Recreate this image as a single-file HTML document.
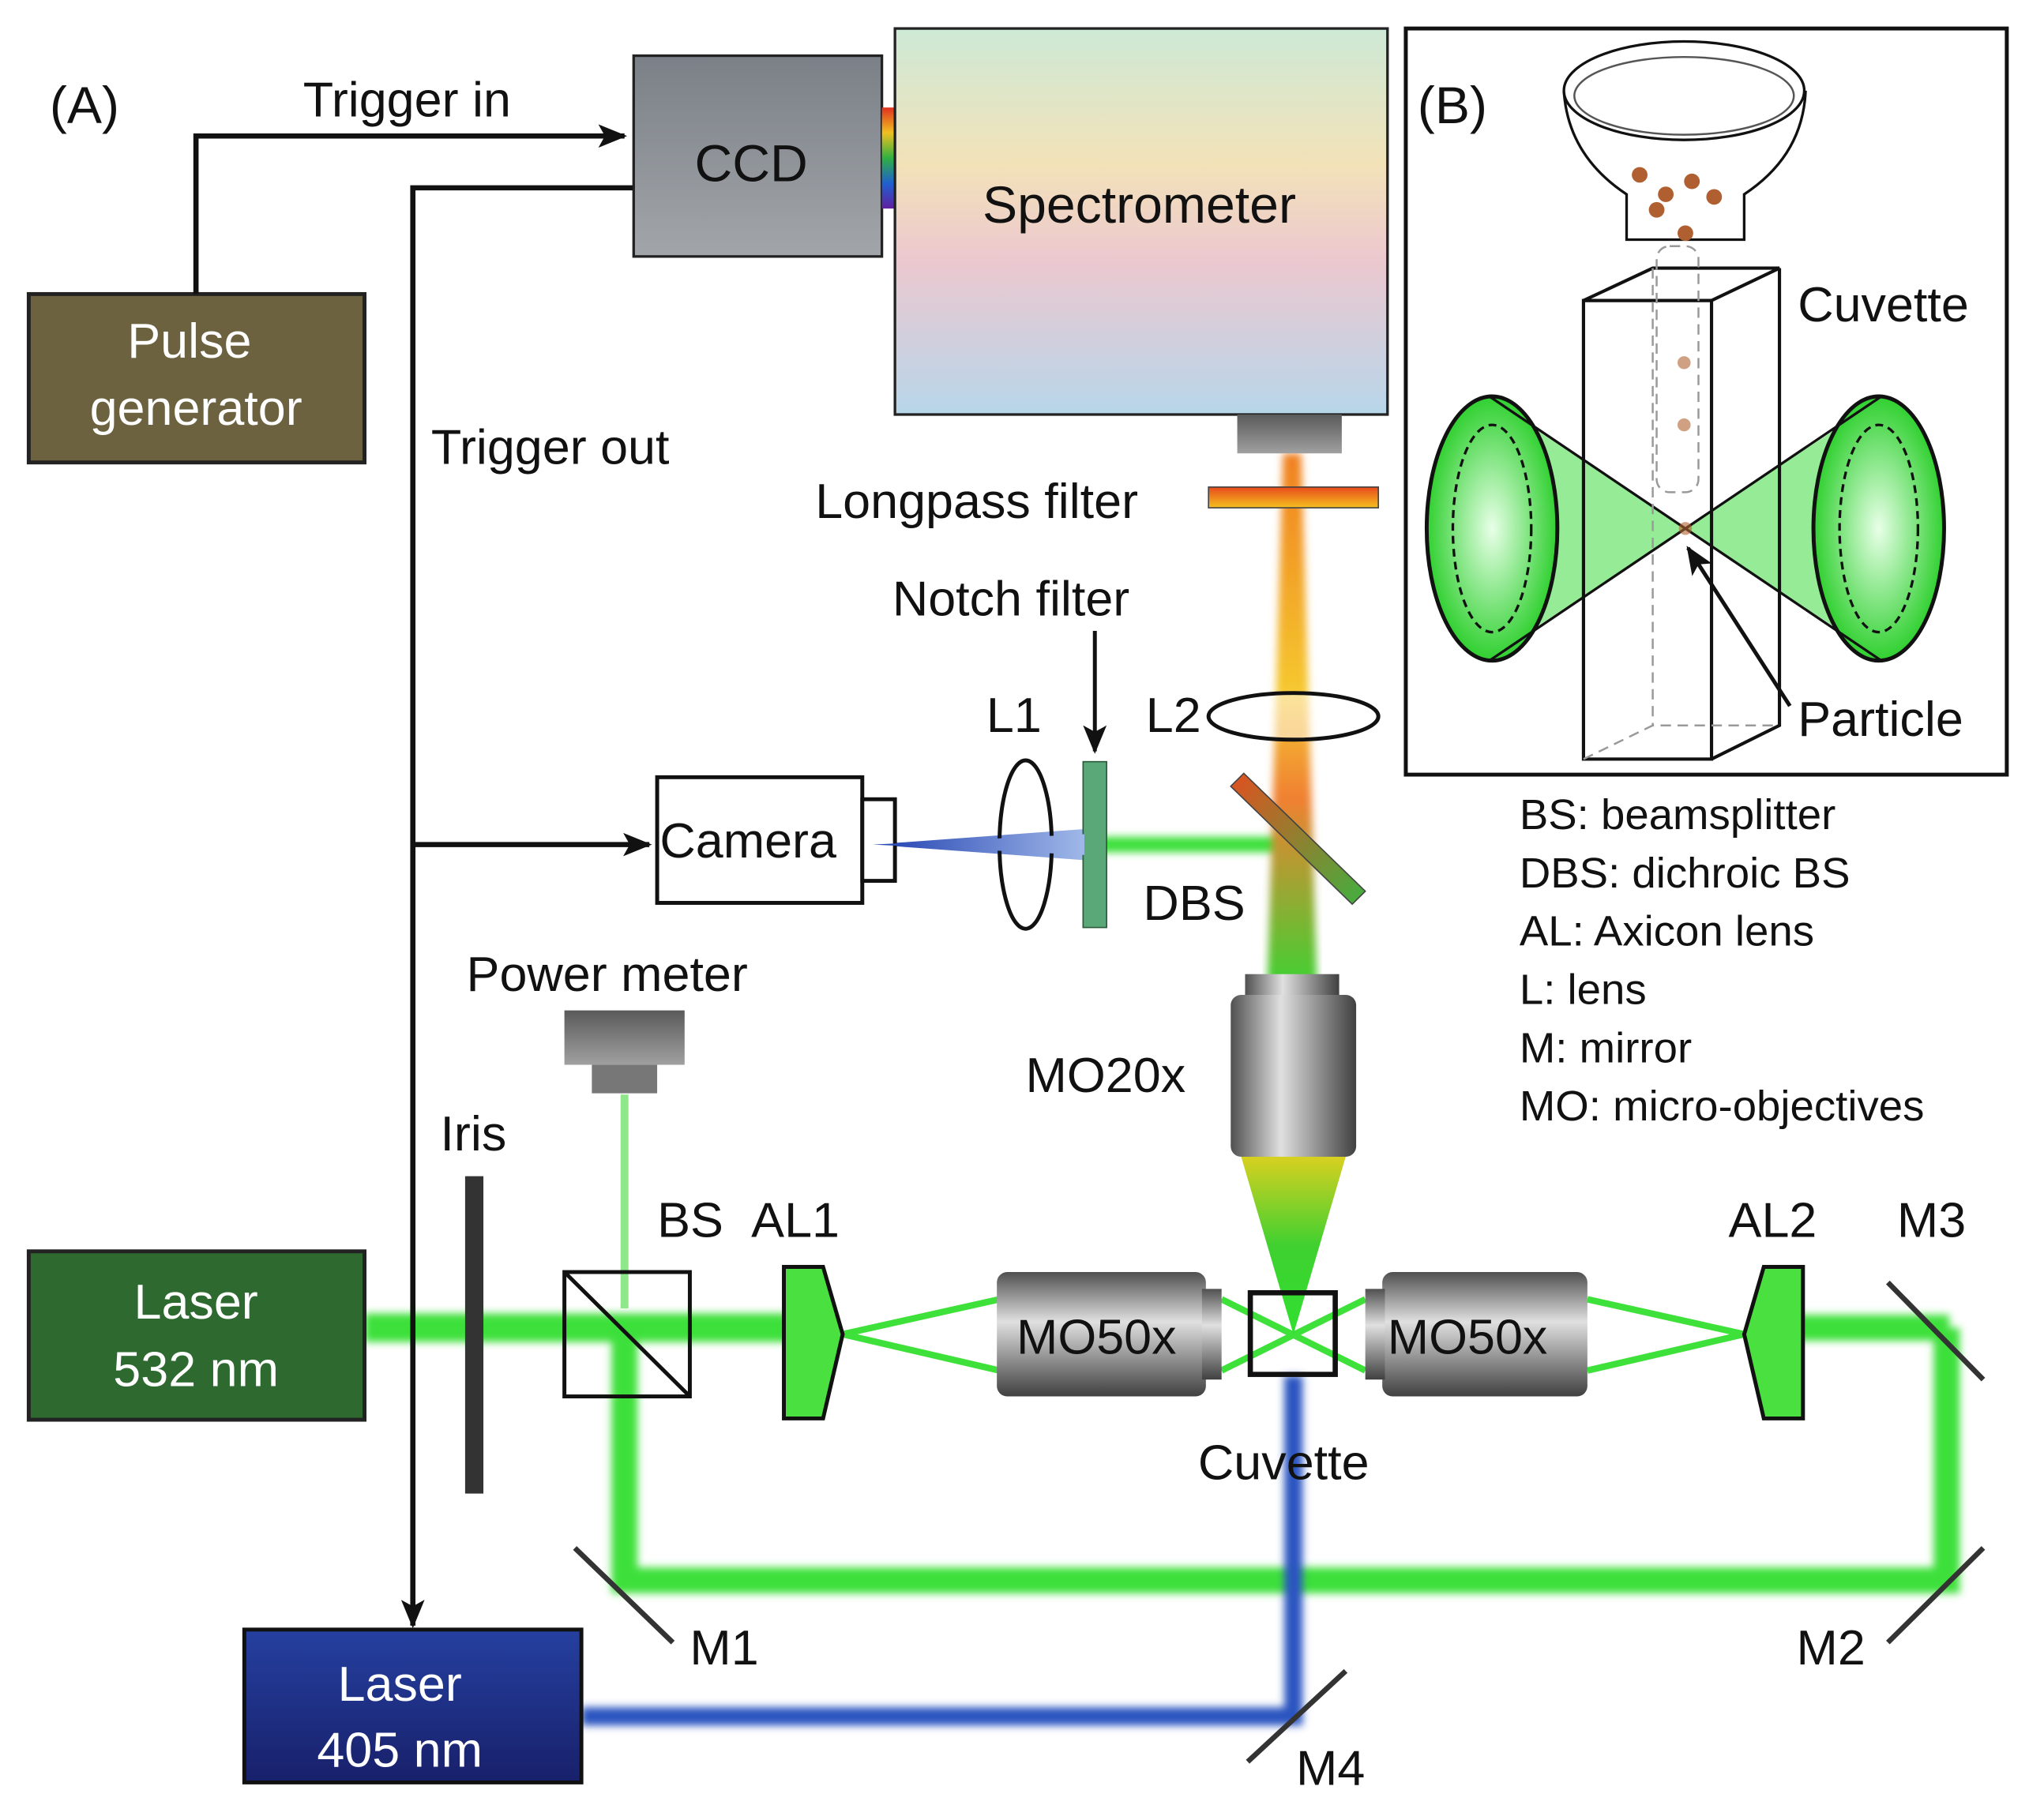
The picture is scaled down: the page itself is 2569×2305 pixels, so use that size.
<!DOCTYPE html>
<html><head><meta charset="utf-8"><style>
html,body{margin:0;padding:0;background:#fff;}
svg{display:block;}
text{font-family:"Liberation Sans",sans-serif;fill:#111;}
</style></head><body>
<svg width="2569" height="2305" viewBox="0 0 1553 1405" preserveAspectRatio="none" xmlns="http://www.w3.org/2000/svg">
<defs>
<linearGradient id="spec" x1="0" y1="0" x2="0" y2="1">
<stop offset="0" stop-color="#cde9d6"/><stop offset="0.35" stop-color="#f2e2b8"/><stop offset="0.6" stop-color="#ecc8cf"/><stop offset="1" stop-color="#b7d6ea"/></linearGradient>
<linearGradient id="ccd" x1="0" y1="0" x2="0" y2="1"><stop offset="0" stop-color="#7b8087"/><stop offset="1" stop-color="#a2a6aa"/></linearGradient>
<linearGradient id="rb" x1="0" y1="0" x2="0" y2="1"><stop offset="0" stop-color="#e03020"/><stop offset="0.25" stop-color="#f0c020"/><stop offset="0.5" stop-color="#30b040"/><stop offset="0.75" stop-color="#2060d0"/><stop offset="1" stop-color="#6020a0"/></linearGradient>
<linearGradient id="lp" x1="0" y1="0" x2="0" y2="1"><stop offset="0" stop-color="#e84a1a"/><stop offset="1" stop-color="#f5c020"/></linearGradient>
<linearGradient id="beam" x1="0" y1="0" x2="0" y2="1"><stop offset="0" stop-color="#f08020"/><stop offset="0.45" stop-color="#f5c830"/><stop offset="0.65" stop-color="#f08030"/><stop offset="1" stop-color="#40d030"/></linearGradient>
<linearGradient id="obj" x1="0" y1="0" x2="1" y2="0"><stop offset="0" stop-color="#505050"/><stop offset="0.4" stop-color="#e0e0e0"/><stop offset="1" stop-color="#404040"/></linearGradient>
<linearGradient id="objh" x1="0" y1="0" x2="0" y2="1"><stop offset="0" stop-color="#505050"/><stop offset="0.4" stop-color="#e0e0e0"/><stop offset="1" stop-color="#404040"/></linearGradient>
<linearGradient id="cone" x1="0" y1="0" x2="0" y2="1"><stop offset="0" stop-color="#d8d020"/><stop offset="0.5" stop-color="#40d030"/><stop offset="1" stop-color="#30e030"/></linearGradient>
<linearGradient id="bcone" x1="0" y1="0" x2="1" y2="0"><stop offset="0" stop-color="#2040b0"/><stop offset="1" stop-color="#a0b8e8"/></linearGradient>
<linearGradient id="l405" x1="0" y1="0" x2="0" y2="1"><stop offset="0" stop-color="#2540a0"/><stop offset="1" stop-color="#18206a"/></linearGradient>
<linearGradient id="dbs" x1="0" y1="0" x2="1" y2="1"><stop offset="0" stop-color="#e05020"/><stop offset="1" stop-color="#40b040"/></linearGradient>
<linearGradient id="pm" x1="0" y1="0" x2="0" y2="1"><stop offset="0" stop-color="#5a5a5a"/><stop offset="1" stop-color="#a0a0a0"/></linearGradient>
<filter id="blur"><feGaussianBlur stdDeviation="3"/></filter>
<radialGradient id="gc" cx="0.5" cy="0.5" r="0.5"><stop offset="0" stop-color="#e8ffe8"/><stop offset="1" stop-color="#30d030"/></radialGradient>
<marker id="ar" markerWidth="10" markerHeight="10" refX="9" refY="5" orient="auto" markerUnits="userSpaceOnUse"><path d="M0,0 L10,5 L0,10 Z" fill="#111"/></marker>
<marker id="arb" markerWidth="22" markerHeight="18" refX="20" refY="9" orient="auto" markerUnits="userSpaceOnUse"><path d="M0,0 L22,9 L0,18 L5,9 Z" fill="#111"/></marker>
</defs>

<!-- green beams -->
<g filter="url(#blur)" stroke="#3ee03a" fill="none">
<line x1="279" y1="1025" x2="605" y2="1025" stroke-width="22"/>
<line x1="1375" y1="1025" x2="1492" y2="1025" stroke-width="20"/>
<polyline points="1490,1025 1490,1220 478,1220 478,1030" stroke-width="20"/>
<line x1="830" y1="652" x2="990" y2="652" stroke-width="12"/>
</g>
<line x1="478" y1="845" x2="478" y2="1010" stroke="#8ee88a" stroke-width="6"/>
<!-- blue beam -->
<polyline points="445,1325 990,1325 990,1062" fill="none" stroke="#2a55c0" stroke-width="14" filter="url(#blur)"/>
<!-- axicon beams -->
<g stroke="#3ee03a" stroke-width="5" fill="none">
<path d="M645,1030 L765,1003 M645,1030 L765,1058 M935,1003 L1045,1058 M935,1058 L1045,1003 M1335,1030 L1215,1003 M1335,1030 L1215,1058"/>
</g>
<!-- vertical beam -->
<polygon points="982,350 996,350 1008,760 970,760" fill="url(#beam)" filter="url(#blur)"/>
<polygon points="950,893 1030,893 990,1030" fill="url(#cone)"/>
<polygon points="668,652 830,640 830,664" fill="url(#bcone)"/>

<!-- Pulse generator -->
<rect x="22" y="227" width="257" height="130" fill="#6c6240" stroke="#222" stroke-width="3"/>
<text x="145" y="276" font-size="38" text-anchor="middle" style="fill:#fff">Pulse</text>
<text x="150" y="328" font-size="38" text-anchor="middle" style="fill:#fff">generator</text>
<text x="38" y="95" font-size="40">(A)</text>
<polyline points="150,227 150,105 478,105" fill="none" stroke="#111" stroke-width="4" marker-end="url(#arb)"/>
<text x="232" y="90" font-size="38">Trigger in</text>
<polyline points="485,145 316,145 316,1255" fill="none" stroke="#111" stroke-width="4" marker-end="url(#arb)"/>
<line x1="316" y1="652" x2="497" y2="652" stroke="#111" stroke-width="4" marker-end="url(#arb)"/>
<text x="330" y="358" font-size="38">Trigger out</text>

<!-- CCD / spectrometer -->
<rect x="485" y="43" width="190" height="155" fill="url(#ccd)" stroke="#222" stroke-width="2"/>
<text x="575" y="140" font-size="40" text-anchor="middle">CCD</text>
<rect x="675" y="83" width="10" height="78" fill="url(#rb)"/>
<rect x="685" y="22" width="377" height="298" fill="url(#spec)" stroke="#222" stroke-width="2"/>
<text x="872" y="172" font-size="40" text-anchor="middle">Spectrometer</text>
<rect x="947" y="320" width="80" height="30" fill="url(#pm)"/>
<rect x="925" y="376" width="130" height="16" fill="url(#lp)" stroke="#444" stroke-width="1"/>
<text x="624" y="400" font-size="38">Longpass filter</text>
<text x="683" y="475" font-size="38">Notch filter</text>
<line x1="838" y1="487" x2="838" y2="580" stroke="#111" stroke-width="3" marker-end="url(#arb)"/>
<ellipse cx="990" cy="553" rx="65" ry="18" fill="rgba(255,255,255,0.5)" stroke="#111" stroke-width="3"/>
<text x="877" y="565" font-size="38">L2</text>
<text x="755" y="565" font-size="38">L1</text>
<rect x="829" y="588" width="18" height="128" fill="#5aa878" stroke="#2a5a3a" stroke-width="1"/>
<ellipse cx="785" cy="652" rx="20" ry="65" fill="none" stroke="#111" stroke-width="3"/>
<polygon points="952,597 1045,688 1035,698 942,607" fill="url(#dbs)" stroke="#444" stroke-width="1"/>
<text x="875" y="710" font-size="38">DBS</text>
<rect x="503" y="600" width="157" height="97" fill="#fff" stroke="#111" stroke-width="3"/>
<rect x="660" y="617" width="25" height="63" fill="#fff" stroke="#111" stroke-width="3"/>
<text x="505" y="662" font-size="38">Camera</text>
<polygon points="668,652 830,644 830,660" fill="url(#bcone)"/>

<!-- MO20x -->
<rect x="953" y="752" width="72" height="20" fill="url(#obj)"/>
<rect x="942" y="768" width="96" height="125" rx="8" fill="url(#obj)"/>
<text x="785" y="843" font-size="38">MO20x</text>

<!-- Power meter, Iris -->
<text x="357" y="765" font-size="38">Power meter</text>
<rect x="432" y="780" width="92" height="42" fill="url(#pm)"/>
<rect x="453" y="822" width="50" height="22" fill="#777"/>
<text x="337" y="888" font-size="38">Iris</text>
<rect x="356" y="908" width="14" height="245" fill="#333"/>

<!-- Laser 532 -->
<rect x="22" y="966" width="257" height="130" fill="#2e6a30" stroke="#222" stroke-width="3"/>
<text x="150" y="1018" font-size="38" text-anchor="middle" style="fill:#fff">Laser</text>
<text x="150" y="1070" font-size="38" text-anchor="middle" style="fill:#fff">532 nm</text>

<!-- BS -->
<rect x="432" y="982" width="96" height="96" fill="none" stroke="#111" stroke-width="3"/>
<line x1="432" y1="982" x2="528" y2="1078" stroke="#111" stroke-width="3"/>
<text x="503" y="955" font-size="38">BS</text>
<text x="575" y="955" font-size="38">AL1</text>
<polygon points="600,978 630,978 645,1030 630,1095 600,1095" fill="#4ae040" stroke="#111" stroke-width="3"/>
<polygon points="1380,978 1350,978 1335,1030 1350,1095 1380,1095" fill="#4ae040" stroke="#111" stroke-width="3"/>
<text x="1323" y="955" font-size="38">AL2</text>
<text x="1452" y="955" font-size="38">M3</text>

<!-- MO50x -->
<rect x="763" y="982" width="160" height="96" rx="8" fill="url(#objh)"/>
<rect x="920" y="995" width="15" height="70" fill="url(#objh)"/>
<text x="778" y="1045" font-size="38">MO50x</text>
<rect x="1058" y="982" width="157" height="96" rx="8" fill="url(#objh)"/>
<rect x="1045" y="995" width="15" height="70" fill="url(#objh)"/>
<text x="1062" y="1045" font-size="38">MO50x</text>
<rect x="957" y="998" width="65" height="63" fill="none" stroke="#111" stroke-width="4"/>
<text x="917" y="1142" font-size="38">Cuvette</text>

<!-- mirrors -->
<g stroke="#333" stroke-width="4">
<line x1="1445" y1="990" x2="1518" y2="1065"/>
<line x1="1445" y1="1268" x2="1518" y2="1195"/>
<line x1="440" y1="1195" x2="515" y2="1268"/>
<line x1="955" y1="1360" x2="1030" y2="1290"/>
</g>
<text x="528" y="1285" font-size="38">M1</text>
<text x="1375" y="1285" font-size="38">M2</text>
<text x="992" y="1378" font-size="38">M4</text>

<!-- Laser 405 -->
<rect x="187" y="1258" width="258" height="118" fill="url(#l405)" stroke="#111" stroke-width="3"/>
<text x="306" y="1313" font-size="38" text-anchor="middle" style="fill:#fff">Laser</text>
<text x="306" y="1364" font-size="38" text-anchor="middle" style="fill:#fff">405 nm</text>

<!-- legend -->
<g font-size="33">
<text x="1163" y="640">BS: beamsplitter</text>
<text x="1163" y="685">DBS: dichroic BS</text>
<text x="1163" y="730">AL: Axicon lens</text>
<text x="1163" y="775">L: lens</text>
<text x="1163" y="820">M: mirror</text>
<text x="1163" y="865">MO: micro-objectives</text>
</g>

<!-- Panel B -->
<rect x="1076" y="22" width="460" height="576" fill="#fff" stroke="#111" stroke-width="3"/>
<text x="1085" y="95" font-size="40">(B)</text>
<text x="1376" y="248" font-size="38">Cuvette</text>
<text x="1376" y="568" font-size="38">Particle</text>
<!-- green cones -->
<path d="M1140,308 L1290,408 L1140,508 Z" fill="#40dd40" opacity="0.55"/>
<path d="M1440,308 L1290,408 L1440,508 Z" fill="#40dd40" opacity="0.55"/>
<ellipse cx="1142" cy="408" rx="50" ry="102" fill="url(#gc)" stroke="#111" stroke-width="3"/>
<ellipse cx="1438" cy="408" rx="50" ry="102" fill="url(#gc)" stroke="#111" stroke-width="3"/>
<ellipse cx="1142" cy="408" rx="30" ry="80" fill="none" stroke="#111" stroke-width="2" stroke-dasharray="6,4"/>
<ellipse cx="1438" cy="408" rx="30" ry="80" fill="none" stroke="#111" stroke-width="2" stroke-dasharray="6,4"/>
<line x1="1140" y1="306" x2="1290" y2="408" stroke="#111" stroke-width="2"/>
<line x1="1140" y1="510" x2="1290" y2="408" stroke="#111" stroke-width="2"/>
<line x1="1440" y1="306" x2="1290" y2="408" stroke="#111" stroke-width="2"/>
<line x1="1440" y1="510" x2="1290" y2="408" stroke="#111" stroke-width="2"/>
<!-- cuvette box -->
<g fill="none" stroke="#111" stroke-width="2.5">
<polygon points="1212,232 1265,207 1362,207 1310,232"/>
<rect x="1212" y="232" width="98" height="354"/>
<polyline points="1310,586 1362,560 1362,207"/>
</g>
<g fill="none" stroke="#999" stroke-width="1.5" stroke-dasharray="8,5">
<polyline points="1212,586 1265,560 1362,560"/><line x1="1265" y1="207" x2="1265" y2="560"/>
<rect x="1268" y="190" width="32" height="190" rx="10"/>
</g>
<!-- funnel -->
<path d="M1197,70 Q1200,120 1245,150 L1245,185 L1335,185 L1335,150 Q1380,120 1382,70" fill="#fff" stroke="#111" stroke-width="2"/>
<ellipse cx="1289" cy="70" rx="92" ry="38" fill="#fff" stroke="#111" stroke-width="2"/>
<ellipse cx="1289" cy="74" rx="84" ry="30" fill="none" stroke="#555" stroke-width="1.5"/>
<g fill="#b06030">
<circle cx="1255" cy="135" r="6"/><circle cx="1275" cy="150" r="6"/><circle cx="1295" cy="140" r="6"/><circle cx="1312" cy="152" r="6"/><circle cx="1268" cy="162" r="6"/><circle cx="1290" cy="180" r="6"/>
<circle cx="1289" cy="280" r="5" opacity="0.6"/><circle cx="1289" cy="328" r="5" opacity="0.6"/><circle cx="1290" cy="408" r="5" opacity="0.6"/>
</g>
<line x1="1370" y1="545" x2="1292" y2="423" stroke="#111" stroke-width="3" marker-end="url(#arb)"/>
</svg>
</body></html>
